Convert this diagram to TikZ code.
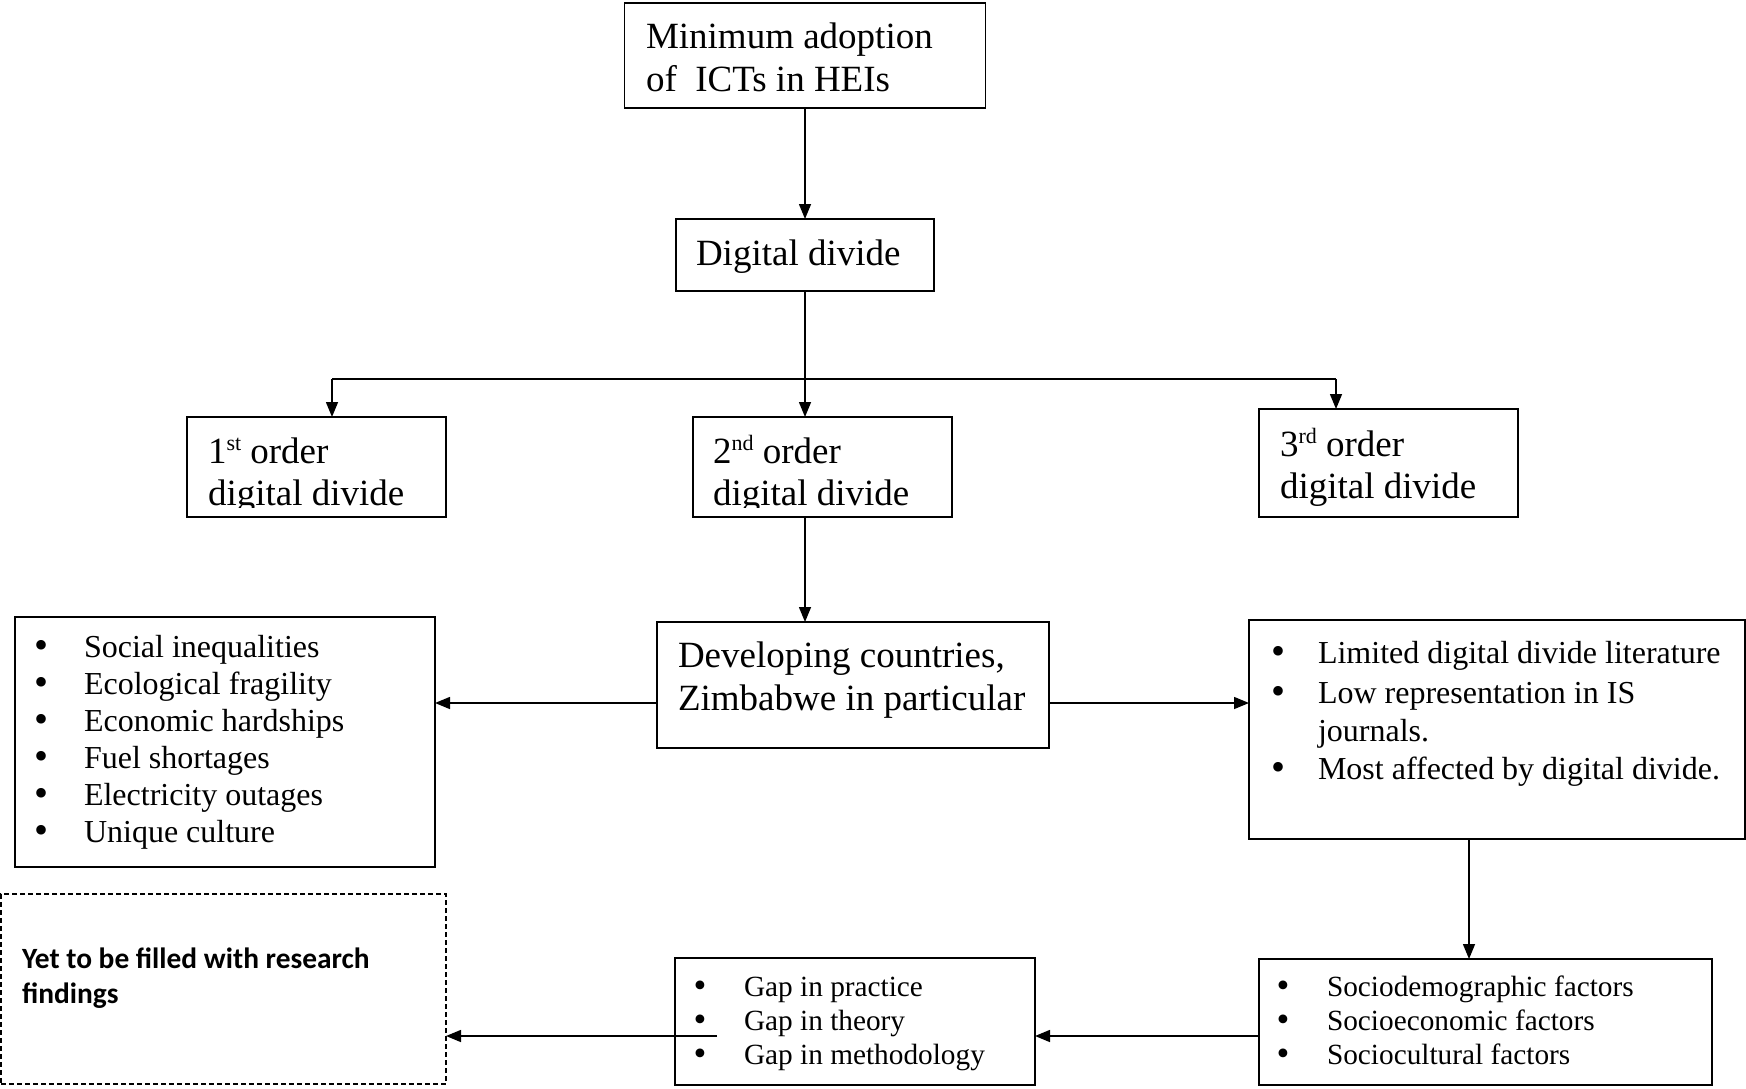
\documentclass[tikz,border=0pt]{standalone}
\usepackage{fontspec}
\setmainfont{Liberation Serif}
\newfontfamily\calibfont{Carlito}
\usetikzlibrary{arrows.meta}

\newcommand{\supr}[1]{\raisebox{13pt}{\fontsize{22}{22}\selectfont #1}}
\newcommand{\bigdot}{\raisebox{-1.5pt}{\scalebox{1.25}{\textbullet}}}

\begin{document}
\begin{tikzpicture}[x=1pt,y=-1pt,
  box/.style={draw, line width=1.5pt, inner sep=0pt, outer sep=0pt},
  dashbox/.style={draw, line width=1.3pt, dash pattern=on 5pt off 3pt, inner sep=0pt, outer sep=0pt},
  txt/.style={anchor=base west, inner sep=0pt, outer sep=0pt},
  bul/.style={anchor=base, inner sep=0pt, outer sep=0pt},
  big/.style={font=\fontsize{37}{42}\selectfont},
  mid/.style={font=\fontsize{32}{37}\selectfont},
  small/.style={font=\fontsize{29.3}{31}\selectfont},
  arr/.style={line width=1.5pt, -{Triangle[length=15pt,width=12pt]}},
  plain/.style={line width=1.5pt}]

\useasboundingbox (0,0) rectangle (1746,1089);

% ---- boxes ----
\node[box, minimum width=361pt, minimum height=105pt] (top) at (805,55.5) {};
\node[box, minimum width=258pt, minimum height=72pt]  (dd)  at (805,255) {};
\node[box, minimum width=259pt, minimum height=100pt] (o1)  at (316.5,467) {};
\node[box, minimum width=259pt, minimum height=100pt] (o2)  at (822.5,467) {};
\node[box, minimum width=259pt, minimum height=108pt] (o3)  at (1388.5,463) {};
\node[box, minimum width=392pt, minimum height=126pt] (dev) at (853,685) {};
\node[box, minimum width=420pt, minimum height=250pt] (lft) at (225,742) {};
\node[box, minimum width=496pt, minimum height=219pt] (rgt) at (1497,729.5) {};
\node[dashbox, minimum width=445pt, minimum height=190pt] (res) at (223.5,989) {};
\node[box, minimum width=360pt, minimum height=127pt] (gap) at (855,1021.5) {};
\node[box, minimum width=453pt, minimum height=126pt] (fac) at (1485.5,1022) {};

% ---- texts ----
\node[txt, big] (t1a) at (646,49) {Minimum adoption};
\node[txt, big] (t1b) at (646,92) {of~~ICTs in HEIs};
\node[txt, big] (t2)  at (696,265) {Digital divide};

\begin{scope}
  \clip (187,417) rectangle (952,507);
  \node[txt, big] (o1a) at (208,463) {1\supr{st} order};
  \node[txt, big] (o1b) at (208,505) {digital divide};
  \node[txt, big] (o2a) at (713,463) {2\supr{nd} order};
  \node[txt, big] (o2b) at (713,505) {digital divide};
\end{scope}
\node[txt, big] (o3a) at (1280,456) {3\supr{rd} order};
\node[txt, big] (o3b) at (1280,498) {digital divide};

\node[txt, big] (dva) at (678,667) {Developing countries,};
\node[txt, big] (dvb) at (678,710) {Zimbabwe in particular};

% left list
\foreach \y/\t [count=\i] in {657/Social inequalities, 694/Ecological fragility,
    731/Economic hardships, 768/Fuel shortages, 805/Electricity outages, 842/Unique culture} {
  \node[bul, mid] (lb\i) at (42,\y) {\bigdot};
  \node[txt, mid] (lt\i) at (84,\y) {\t};
}

% right list
\node[bul, mid] (rb1) at (1278,663) {\bigdot};
\node[txt, mid] (rt1) at (1318,663) {Limited digital divide literature};
\node[bul, mid] (rb2) at (1278,703) {\bigdot};
\node[txt, mid] (rt2) at (1318,703) {Low representation in IS};
\node[txt, mid] (rt3) at (1318,741) {journals.};
\node[bul, mid] (rb3) at (1278,779) {\bigdot};
\node[txt, mid] (rt4) at (1318,779) {Most affected by digital divide.};

% gap list
\foreach \y/\t [count=\i] in {996/Gap in practice, 1030/Gap in theory, 1064/Gap in methodology} {
  \node[bul, small] (gb\i) at (700,\y) {\bigdot};
  \node[txt, small] (gt\i) at (744,\y) {\t};
}

% factors list
\foreach \y/\t [count=\i] in {996/Sociodemographic factors, 1030/Socioeconomic factors, 1064/Sociocultural factors} {
  \node[bul, small] (fb\i) at (1283,\y) {\bigdot};
  \node[txt, small] (ft\i) at (1327,\y) {\t};
}

% research findings placeholder
\node[txt, font=\calibfont\bfseries\fontsize{29.4}{34}\selectfont] (ra) at (22,968) {Yet to be filled with research};
\node[txt, font=\calibfont\bfseries\fontsize{29.4}{34}\selectfont] (rb) at (22,1003) {findings};

% ---- connectors ----
\coordinate (b1) at (332,379);
\coordinate (b3) at (1336,379);
\coordinate (ya) at (0,703);
\coordinate (xr) at (1469,0);
\coordinate (yb) at (0,1036);
\coordinate (gs) at (717,1036);

\draw[arr] (top.south) -- (top.south |- dd.north);
\draw[arr] (dd.south) -- (dd.south |- o2.north);
\draw[plain] (b1) -- (b3);
\draw[arr] (b1) -- (b1 |- o1.north);
\draw[arr] (b3) -- (b3 |- o3.north);
\draw[arr] (dd.south |- o2.south) -- (dd.south |- dev.north);
\draw[arr] (dev.west |- ya) -- (lft.east |- ya);
\draw[arr] (dev.east |- ya) -- (rgt.west |- ya);
\draw[arr] (rgt.south -| xr) -- (fac.north -| xr);
\draw[arr] (fac.west |- yb) -- (gap.east |- yb);
\draw[arr] (gs) -- (res.east |- yb);

\end{tikzpicture}
\end{document}
